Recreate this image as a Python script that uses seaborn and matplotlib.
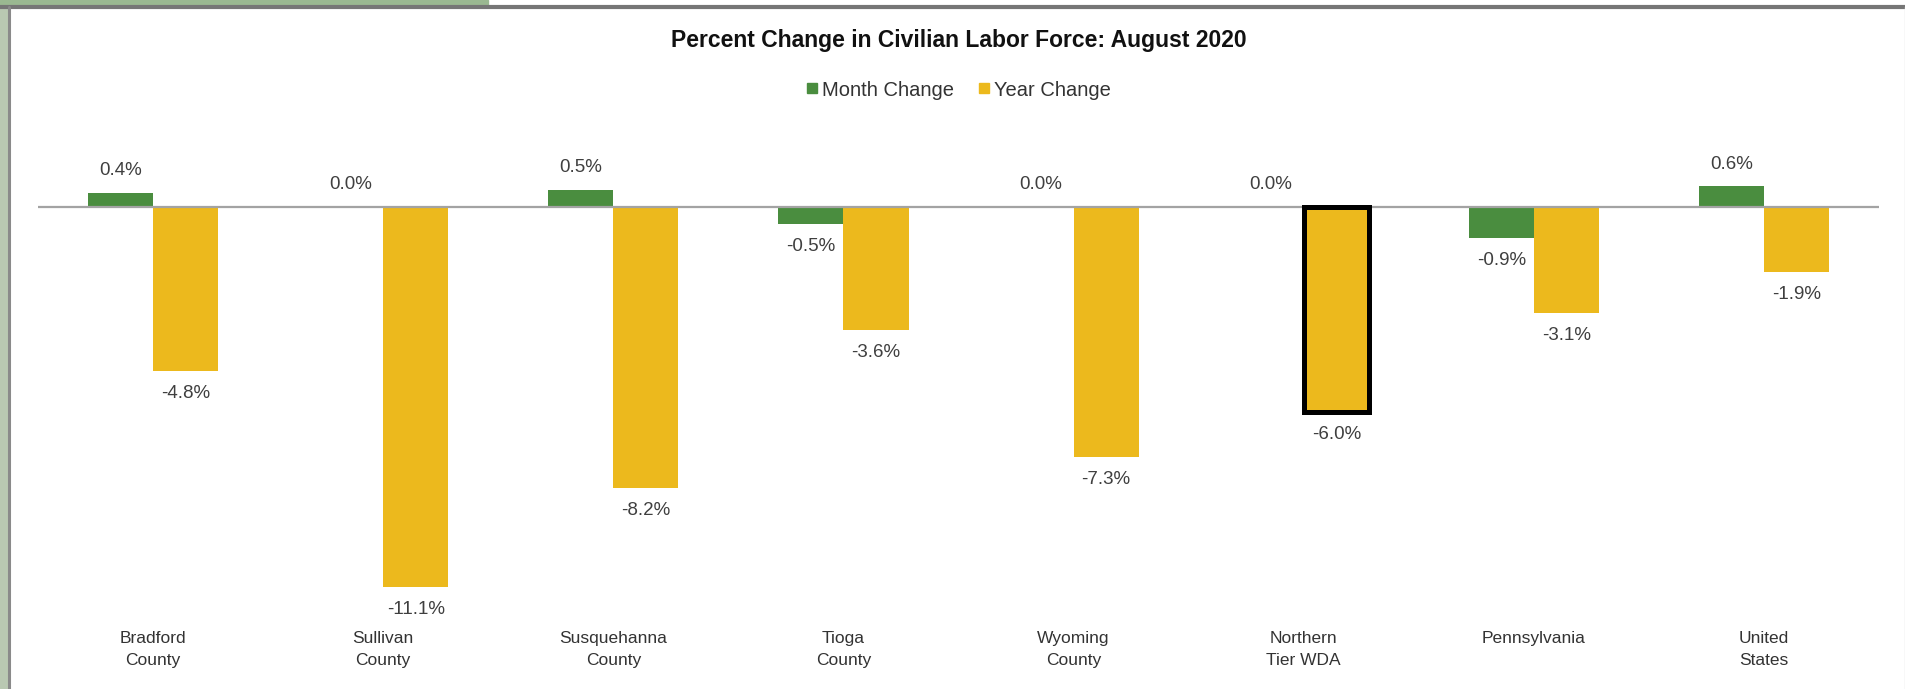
import numpy as np
import pandas as pd
import matplotlib
matplotlib.use("Agg")
import matplotlib.pyplot as plt
from matplotlib.lines import Line2D
from matplotlib.patches import Rectangle
import seaborn as sns

# data
areas = ["Bradford\nCounty", "Sullivan\nCounty", "Susquehanna\nCounty", "Tioga\nCounty",
         "Wyoming\nCounty", "Northern\nTier WDA", "Pennsylvania", "United\nStates"]
month_change = [0.4, 0.0, 0.5, -0.5, 0.0, 0.0, -0.9, 0.6]
year_change = [-4.8, -11.1, -8.2, -3.6, -7.3, -6.0, -3.1, -1.9]
series = ["Month Change", "Year Change"]
colors = ["#4a8d3f", "#ecb91d"]

df = pd.DataFrame({
    "area": areas * 2,
    "change": month_change + year_change,
    "series": [series[0]] * len(areas) + [series[1]] * len(areas),
})

sns.set_style("white")
plt.rcParams["font.family"] = ["Liberation Sans", "DejaVu Sans"]

W, H = 1906, 689
fig = plt.figure(figsize=(W / 100, H / 100), dpi=100)
ax_top, ax_bot = 100, 620          # pixel rows of the axes box
ax_l, ax_r = 38, 1879
ax = fig.add_axes([ax_l / W, 1 - ax_bot / H, (ax_r - ax_l) / W, (ax_bot - ax_top) / H])

sns.barplot(data=df, x="area", y="change", hue="series", palette=colors,
            width=0.566, saturation=1, linewidth=0, ax=ax, legend=False)

px_per_unit = 34.23
zero_px = 207
ax.set_ylim(-(ax_bot - zero_px) / px_per_unit, (zero_px - ax_top) / px_per_unit)
ax.set_xlim(-0.5, len(areas) - 0.5)

ax.axhline(0, color="#a3a3a3", lw=1.6, zorder=2.5)

# highlight Northern Tier WDA year bar
hl = ax.containers[1][5]
hl.set_edgecolor("black")
hl.set_linewidth(3.6)
hl.set_joinstyle("miter")
hl.set_zorder(3)

for cont in ax.containers:
    ax.bar_label(cont, fmt="{:.1f}%", padding=10, fontsize=13.5, color="#3f3f3f")

for s in ax.spines.values():
    s.set_visible(False)
ax.set_yticks([])
ax.set_xlabel("")
ax.set_ylabel("")
ax.tick_params(axis="x", length=0, pad=8, labelsize=12.5, labelcolor="#333333")
for t in ax.get_xticklabels():
    t.set_linespacing(1.55)

fig.text((ax_l + ax_r) / 2 / W, 1 - 40 / H, "Percent Change in Civilian Labor Force: August 2020",
         ha="center", va="center", fontsize=16.5, fontweight="bold", color="#111111")

handles = [Line2D([], [], marker="s", ls="", color=c, markersize=7) for c in colors]
fig.legend(handles, series, loc="center", bbox_to_anchor=((ax_l + ax_r) / 2 / W, 1 - 90 / H),
           ncol=2, frameon=False, fontsize=14.5, handlelength=0.6, handletextpad=0.2,
           columnspacing=1.2, labelcolor="#333333")

# page frame around the chart
fig.patches.append(Rectangle((0, 0), 8 / W, 1, transform=fig.transFigure,
                             color="#b9c8b2", zorder=0))
fig.patches.append(Rectangle((0, 1 - 6 / H), 488 / W, 6 / H, transform=fig.transFigure,
                             color="#9ab891", zorder=0))
fig.add_artist(Line2D([0, 1], [1 - 7 / H, 1 - 7 / H], transform=fig.transFigure,
                      color="#767676", lw=3))
fig.add_artist(Line2D([9 / W, 9 / W], [0, 1 - 7 / H], transform=fig.transFigure,
                      color="#8a8a8a", lw=2.2))
fig.add_artist(Line2D([1 - 1 / W, 1 - 1 / W], [0, 1 - 7 / H], transform=fig.transFigure,
                      color="#e0e0e0", lw=1))

fig.savefig("out.png", dpi=100)
